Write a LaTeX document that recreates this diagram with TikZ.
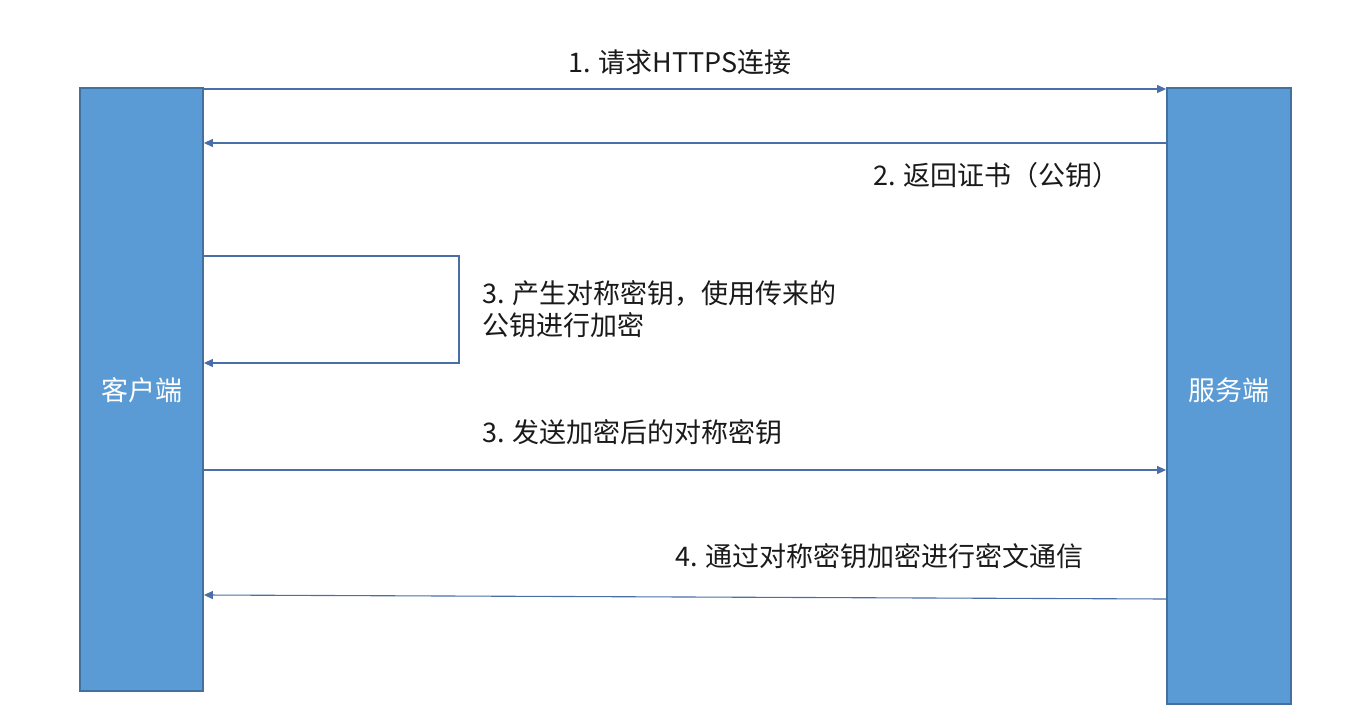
\documentclass[tikz,border=0pt]{standalone}
\usepackage{fontspec}
\setmainfont{Noto Sans CJK SC}
\usetikzlibrary{arrows.meta}
\definecolor{boxfill}{HTML}{5B9BD5}
\definecolor{boxline}{HTML}{41719C}
\definecolor{arrline}{HTML}{4A6FA8}
\definecolor{txt}{HTML}{1A1A1A}
\tikzset{
  party/.style={draw=boxline, line width=1.8pt, fill=boxfill, inner sep=0pt},
  partytext/.style={text=white, inner sep=0pt, font=\fontsize{27}{32}\selectfont},
  msg/.style={draw=arrline, line width=1.1pt, -{Triangle[length=9pt,width=8pt]}},
  lbl/.style={text=txt, inner sep=0pt, font=\fontsize{27}{32}\selectfont, align=left},
}
\begin{document}
\begin{tikzpicture}[x=1pt,y=-1pt]
\useasboundingbox (0,0) rectangle (1345,720);
\fill[white] (0,0) rectangle (1345,720);
\node[party, minimum width=123pt, minimum height=603pt] (cli) at (141.5,389.5) {};
\node[party, minimum width=124pt, minimum height=616pt] (srv) at (1229,396) {};
\node[partytext] (clitext) at (141.5,390) {客户端};
\node[partytext] (srvtext) at (1229,390) {服务端};
\coordinate (y1) at (0,89);
\coordinate (y2) at (0,143);
\coordinate (y3a) at (0,256);
\coordinate (y3b) at (0,363);
\coordinate (y4) at (0,470);
\coordinate (y5a) at (0,599);
\coordinate (y5b) at (0,595);
\coordinate (loopx) at (459,0);
\draw[msg] (cli.east |- y1) -- (srv.west |- y1);
\draw[msg] (srv.west |- y2) -- (cli.east |- y2);
\draw[msg] (cli.east |- y3a) -- (loopx |- y3a) -- (loopx |- y3b) -- (cli.east |- y3b);
\draw[msg] (cli.east |- y4) -- (srv.west |- y4);
\draw[msg] (srv.west |- y5a) -- (cli.east |- y5b);
\node[lbl] (t1) at (680,62) {1. 请求HTTPS连接};
\node[lbl, anchor=west] (t2) at (873,175) {2. 返回证书（公钥）};
\node[lbl, anchor=west] (t3) at (482,309) {3. 产生对称密钥，使用传来的\\公钥进行加密};
\node[lbl, anchor=west] (t4) at (482,432) {3. 发送加密后的对称密钥};
\node[lbl, anchor=west] (t5) at (675,556) {4. 通过对称密钥加密进行密文通信};
\end{tikzpicture}
\end{document}
